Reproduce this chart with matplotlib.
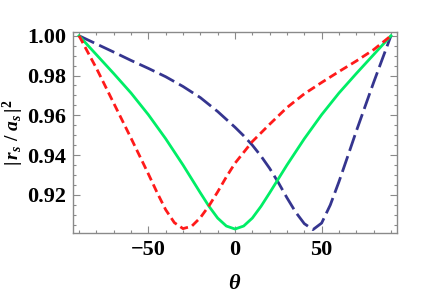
import matplotlib
matplotlib.use("Agg")
import matplotlib.pyplot as plt
from matplotlib.ticker import MultipleLocator, FixedLocator

theta_red = [-90, -85, -80, -70, -60, -50, -45, -40, -35, -30, -25, -20, -15, -10, -5, 0, 10, 20, 30, 40, 50, 60, 70, 80, 90]
red = [1.0, 0.9918, 0.9837, 0.9661, 0.9485, 0.9305, 0.9212, 0.9125, 0.9060, 0.9030, 0.9042, 0.9085, 0.9145, 0.9215,
       0.9290, 0.9359, 0.9468, 0.9555, 0.9639, 0.9708, 0.9765, 0.9820, 0.9873, 0.9930, 1.0]

theta_green = [-90, -80, -70, -60, -50, -40, -30, -25, -20, -15, -10, -5, 0, 5, 10, 15, 20, 25, 30, 40, 50, 60, 70, 80, 90]
green = [1.0, 0.9905, 0.981, 0.9712, 0.9603, 0.9482, 0.9350, 0.9280, 0.9210, 0.9142, 0.9083, 0.9043, 0.9028,
         0.9043, 0.9083, 0.9142, 0.9210, 0.9280, 0.9350, 0.9482, 0.9603, 0.9712, 0.981, 0.9905, 1.0]

theta_blue = [-90, -80, -70, -60, -50, -40, -30, -20, -10, 0, 5, 10, 15, 20, 25, 30, 35, 40, 45, 50, 55, 60, 65, 70, 80, 90]
blue = [1.0, 0.9959, 0.9918, 0.9876, 0.9836, 0.9794, 0.9745, 0.9689, 0.9619, 0.9540, 0.9497, 0.9450, 0.9395,
        0.9333, 0.9262, 0.9185, 0.9113, 0.9055, 0.9025, 0.9058, 0.9149, 0.9266, 0.9392, 0.9520, 0.9765, 1.0]

plt.rcParams['mathtext.fontset'] = 'custom'
plt.rcParams['mathtext.rm'] = 'Liberation Serif:bold'
plt.rcParams['mathtext.it'] = 'Liberation Serif:bold:italic'
plt.rcParams['mathtext.bf'] = 'Liberation Serif:bold'

fig = plt.figure(figsize=(4.29, 2.92), dpi=100)
ax = fig.add_axes([73/429, 1-233/292, (397-73)/429, (233-32)/292])

lw = 2.0
ax.plot(theta_blue, blue, color='#35358F', lw=lw, dashes=(6, 2.0), solid_capstyle='butt')
ax.plot(theta_green, green, color='#00EE66', lw=lw)
ax.plot(theta_red, red, color='#FF1A1A', lw=lw, dashes=(3, 1.6))

ax.set_xlim(-93.5, 93.5)
ax.set_ylim(0.9008, 1.0019)
ax.xaxis.set_major_locator(FixedLocator([-50, 0, 50]))
ax.xaxis.set_minor_locator(MultipleLocator(10))
ax.yaxis.set_major_locator(MultipleLocator(0.02))
ax.yaxis.set_minor_locator(MultipleLocator(0.005))
ax.yaxis.set_major_formatter(matplotlib.ticker.FormatStrFormatter('%.2f'))
ax.xaxis.set_major_formatter(matplotlib.ticker.FuncFormatter(lambda v, p: ('\u2212%d' % abs(v)) if v < 0 else '%d' % v))

for s in ax.spines.values():
    s.set_color('#8a8a8a')
    s.set_linewidth(1.0)
ax.tick_params(which='both', direction='in', top=True, right=True, color='#8a8a8a', width=0.8)
ax.tick_params(which='major', length=5)
ax.tick_params(which='minor', length=2.5)
ax.tick_params(axis='both', which='major', labelsize=16, pad=5)
for lab in ax.get_xticklabels() + ax.get_yticklabels():
    lab.set_fontfamily('Liberation Serif')
    lab.set_fontweight('bold')

ax.set_xlabel(r'$\theta$', fontsize=16)
ax.xaxis.set_label_coords(0.5, (233 - 273) / 201)
ax.set_ylabel(r'$|\,r_s\ /\ a_s\,|^2$', fontsize=14)
ax.yaxis.set_label_coords((26 - 73) / 324, 0.5)

fig.savefig('out.png', dpi=100)
